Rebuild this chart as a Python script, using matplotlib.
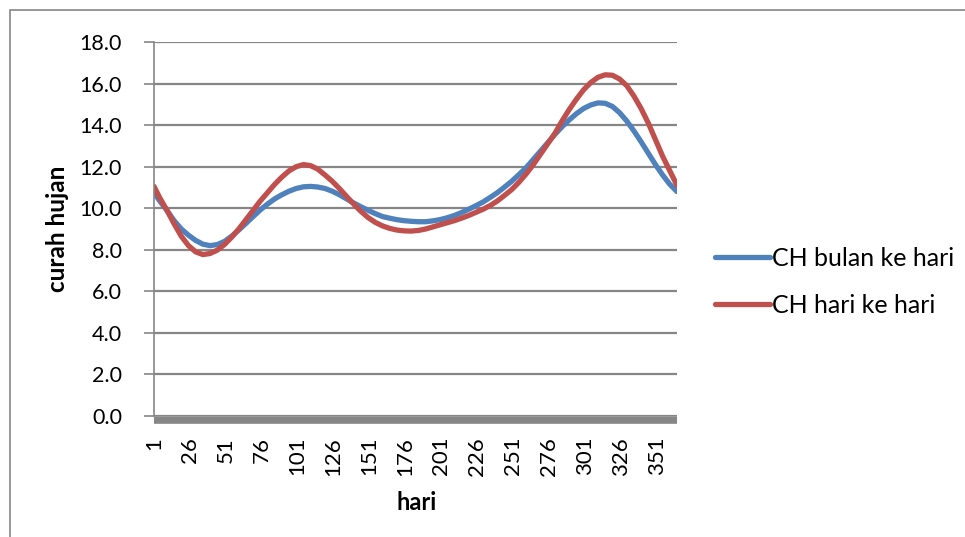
import matplotlib
matplotlib.use('Agg')
import matplotlib.pyplot as plt
from matplotlib.patches import Rectangle

plt.rcParams['font.family'] = ['Lato', 'DejaVu Sans']

hari = [1] + list(range(5, 366, 5))
ch_bulan = [10.75, 10.35, 9.9, 9.4, 9.0, 8.7, 8.45, 8.27, 8.2, 8.25, 8.4, 8.65, 8.95, 9.27,
            9.6, 9.92, 10.2, 10.45, 10.65, 10.82, 10.95, 11.03, 11.05, 11.02, 10.95, 10.82,
            10.65, 10.45, 10.25, 10.07, 9.9, 9.74, 9.6, 9.52, 9.45, 9.4, 9.37, 9.35, 9.35,
            9.39, 9.45, 9.54, 9.65, 9.79, 9.95, 10.12, 10.3, 10.52, 10.75, 11.02, 11.3,
            11.62, 11.95, 12.35, 12.75, 13.15, 13.55, 13.92, 14.25, 14.55, 14.8, 14.97,
            15.07, 15.05, 14.9, 14.6, 14.2, 13.72, 13.2, 12.65, 12.1, 11.6, 11.15, 10.8]
ch_hari = [11.05, 10.5, 9.9, 9.25, 8.65, 8.2, 7.9, 7.77, 7.82, 7.98, 8.25, 8.6, 9.0, 9.45,
           9.9, 10.35, 10.75, 11.15, 11.5, 11.8, 12.0, 12.1, 12.05, 11.88, 11.6, 11.3,
           10.95, 10.57, 10.2, 9.85, 9.55, 9.32, 9.15, 9.03, 8.95, 8.91, 8.9, 8.93, 9.0,
           9.1, 9.2, 9.3, 9.4, 9.52, 9.65, 9.8, 9.95, 10.13, 10.35, 10.62, 10.9, 11.25,
           11.65, 12.1, 12.6, 13.1, 13.6, 14.2, 14.75, 15.25, 15.7, 16.05, 16.3, 16.42,
           16.4, 16.22, 15.9, 15.4, 14.8, 14.1, 13.3, 12.5, 11.8, 11.1]
xticks = list(range(1, 366, 25))
yticks = [0, 2, 4, 6, 8, 10, 12, 14, 16, 18]

grey = '#868686'
fs = 15.5
fig = plt.figure(figsize=(9.65, 5.37), dpi=100)
ax = fig.add_axes([154 / 965, 1 - 416 / 537, (677 - 154) / 965, (416 - 42) / 537])

ax.plot(hari, ch_bulan, color='#4F81BD', lw=3.8, solid_capstyle='round',
        solid_joinstyle='round', label='CH bulan ke hari')
ax.plot(hari, ch_hari, color='#C0504D', lw=3.8, solid_capstyle='round',
        solid_joinstyle='round', label='CH hari ke hari')

for s in ['top', 'right']:
    ax.spines[s].set_visible(False)
ax.spines['left'].set_color(grey)
ax.spines['left'].set_linewidth(1.2)
ax.spines['bottom'].set_color(grey)
ax.spines['bottom'].set_linewidth(5.5)
ax.spines['bottom'].set_position(('outward', 3))
ax.spines['bottom'].set_capstyle('butt')

ax.set_xlim(1, 365)
ax.set_ylim(0, 18)
ax.set_xticks(xticks)
ax.set_xticklabels([str(t) for t in xticks])
ax.set_yticks(yticks)
ax.set_yticklabels(['%.1f' % t for t in yticks])
ax.tick_params(axis='x', length=0, pad=12, labelrotation=90, labelsize=fs + 0.5)
ax.tick_params(axis='y', length=7, width=1.2, color=grey, pad=16, labelsize=fs)
ax.grid(axis='y', color=grey, lw=1.6)
ax.set_axisbelow(True)

ax.set_xlabel('hari', fontsize=17, fontweight='bold')
ax.xaxis.set_label_coords(0.503, -0.2)
ax.set_ylabel('curah hujan', fontsize=17.5, fontweight='bold')
ax.yaxis.set_label_coords(-0.163, 0.5)

fig.legend(loc='center left', bbox_to_anchor=(692 / 965, 1 - 282 / 537), frameon=False,
           fontsize=18, handlelength=2.2, handletextpad=0.1, labelspacing=0.95)

# outer chart border
fig.patches.append(Rectangle((10 / 965, -0.1), 1.2, 1 - 10 / 537 + 0.1,
                             transform=fig.transFigure, fill=False, edgecolor=grey, lw=1.2))

fig.savefig('out.png', dpi=100)
